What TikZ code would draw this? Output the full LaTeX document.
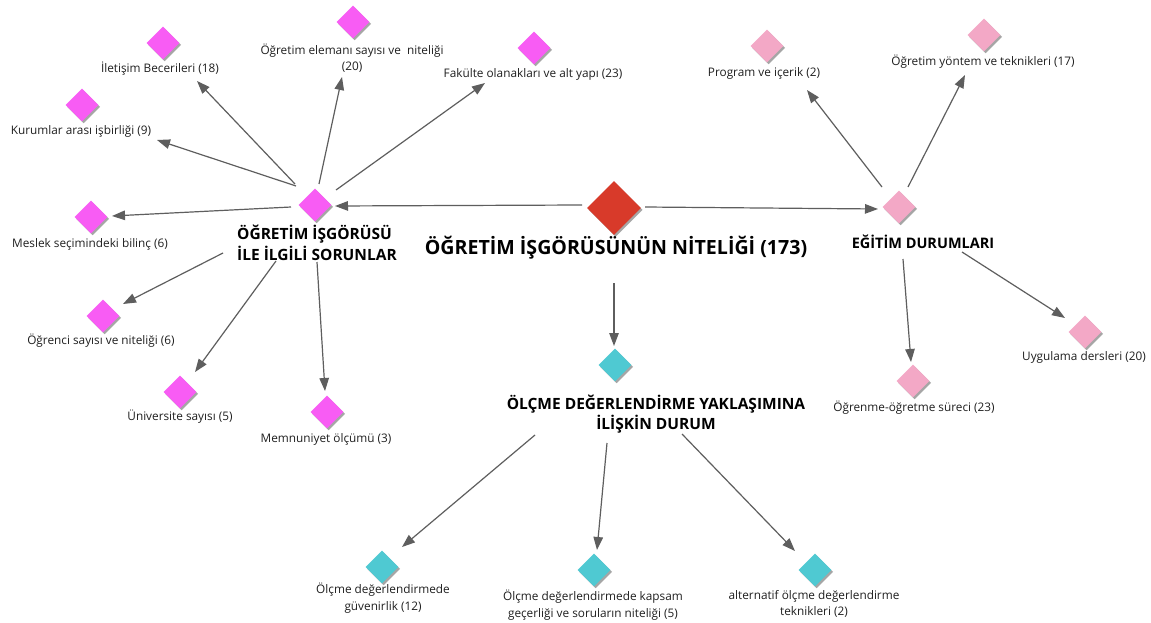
\documentclass[tikz,border=0pt]{standalone}
\usepackage{fontspec}
\setmainfont{Open Sans}
\usetikzlibrary{arrows.meta,shapes.geometric,shadows}
\definecolor{magC}{HTML}{F85CF4}
\definecolor{pinkC}{HTML}{F3A8C6}
\definecolor{tealC}{HTML}{4FC9D2}
\definecolor{redC}{HTML}{D83A2A}
\definecolor{arrC}{HTML}{5E5E5E}
\tikzset{
  dm/.style={diamond, aspect=1, inner sep=0pt, minimum width=33pt, minimum height=33pt, draw=none,
    drop shadow={shadow xshift=1.6pt, shadow yshift=-1.8pt, fill=black!35, opacity=1}},
  mag/.style={dm, fill=magC},
  pnk/.style={dm, fill=pinkC},
  tel/.style={dm, fill=tealC},
  lbl/.style={font=\fontsize{11.8}{16.5}\selectfont, align=center, inner sep=0pt, text=black!88},
  hubt/.style={font=\bfseries\fontsize{15.5}{20.5}\selectfont, inner sep=0pt},
  arr/.style={draw=arrC, line width=1.2pt, -{Triangle[length=13pt,width=9.5pt]}}
}
\begin{document}
\begin{tikzpicture}[x=1pt,y=-1pt]
\path[use as bounding box, fill=white] (0,0) rectangle (1151,623);

% central
\node[dm, fill=redC, minimum width=54pt, minimum height=54pt] (c) at (614,208) {};
\node[font=\bfseries\fontsize{19.6}{24}\selectfont, inner sep=0pt] (ct) at (616,248) {ÖĞRETİM İŞGÖRÜSÜNÜN NİTELİĞİ (173)};

% hubs
\node[mag] (lh) at (315,205) {};
\node[hubt, align=left, anchor=west] (lht) at (237,243) {ÖĞRETİM İŞGÖRÜSÜ\\İLE İLGİLİ SORUNLAR};
\node[pnk] (rh) at (899,207) {};
\node[hubt, font=\bfseries\fontsize{14.5}{20}\selectfont] (rht) at (923,242) {EĞİTİM DURUMLARI};
\node[tel] (bh) at (615,365) {};
\node[hubt, align=center, font=\bfseries\fontsize{15.5}{19.5}\selectfont] (bht) at (656,414) {ÖLÇME DEĞERLENDİRME YAKLAŞIMINA\\İLİŞKİN DURUM};

% left leaves
\node[mag] (l1) at (163,43) {};
\node[lbl] (l1t) at (160,69) {İletişim Becerileri (18)};
\node[mag] (l2) at (353,22) {};
\node[lbl] (l2t) at (352,58) {Öğretim elemanı sayısı ve\ \ niteliği\\(20)};
\node[mag] (l3) at (534,48) {};
\node[lbl] (l3t) at (533,74) {Fakülte olanakları ve alt yapı (23)};
\node[mag] (l4) at (82,105) {};
\node[lbl] (l4t) at (81,131) {Kurumlar arası işbirliği (9)};
\node[mag] (l5) at (91,217) {};
\node[lbl] (l5t) at (90,244) {Meslek seçimindeki bilinç (6)};
\node[mag] (l6) at (103,316) {};
\node[lbl] (l6t) at (101,341) {Öğrenci sayısı ve niteliği (6)};
\node[mag] (l7) at (180,392) {};
\node[lbl] (l7t) at (180,417) {Üniversite sayısı (5)};
\node[mag] (l8) at (327,412) {};
\node[lbl] (l8t) at (326,439) {Memnuniyet ölçümü (3)};

% right leaves
\node[pnk] (r1) at (767,46) {};
\node[lbl] (r1t) at (764,73) {Program ve içerik (2)};
\node[pnk] (r2) at (984,35) {};
\node[lbl] (r2t) at (983,62) {Öğretim yöntem ve teknikleri (17)};
\node[pnk] (r3) at (1085,332) {};
\node[lbl] (r3t) at (1084,357) {Uygulama dersleri (20)};
\node[pnk] (r4) at (913,381) {};
\node[lbl] (r4t) at (914,408) {Öğrenme-öğretme süreci (23)};

% bottom leaves
\node[tel] (b1) at (382,567) {};
\node[lbl] (b1t) at (383,598) {Ölçme değerlendirmede\\güvenirlik (12)};
\node[tel] (b2) at (594,570) {};
\node[lbl] (b2t) at (593,605) {Ölçme değerlendirmede kapsam\\geçerliği ve soruların niteliği (5)};
\node[tel] (b3) at (815,570) {};
\node[lbl] (b3t) at (814,604) {alternatif ölçme değerlendirme\\teknikleri (2)};

% connector end points
\coordinate (cL) at (582,205);  \coordinate (lhR) at (335,206);
\coordinate (cR) at (645,207);  \coordinate (rhL) at (878,209);
\coordinate (cB) at (614,283);  \coordinate (bhT) at (614,346);

\coordinate (s1) at (295,184); \coordinate (e1) at (197,81);
\coordinate (s2) at (319,184); \coordinate (e2) at (342,77);
\coordinate (s3) at (336,190); \coordinate (e3) at (485,83);
\coordinate (s4) at (296,186); \coordinate (e4) at (157,140);
\coordinate (s5) at (291,207); \coordinate (e5) at (112,216);
\coordinate (s6) at (223,253); \coordinate (e6) at (123,304);
\coordinate (s7) at (276,261); \coordinate (e7) at (195,372);
\coordinate (s8) at (317,262); \coordinate (e8) at (325,391);

\coordinate (t1) at (882,187); \coordinate (f1) at (807,90);
\coordinate (t2) at (908,187); \coordinate (f2) at (965,75);
\coordinate (t3) at (962,252); \coordinate (f3) at (1065,318);
\coordinate (t4) at (903,259); \coordinate (f4) at (911,362);

\coordinate (u1) at (535,435); \coordinate (g1) at (402,547);
\coordinate (u2) at (607,443); \coordinate (g2) at (597,550);
\coordinate (u3) at (682,434); \coordinate (g3) at (795,551);

\foreach \a/\b in {cL/lhR,cR/rhL,cB/bhT,s1/e1,s2/e2,s3/e3,s4/e4,s5/e5,s6/e6,s7/e7,s8/e8,
  t1/f1,t2/f2,t3/f3,t4/f4,u1/g1,u2/g2,u3/g3}
  \draw[arr] (\a) -- (\b);
\end{tikzpicture}
\end{document}
